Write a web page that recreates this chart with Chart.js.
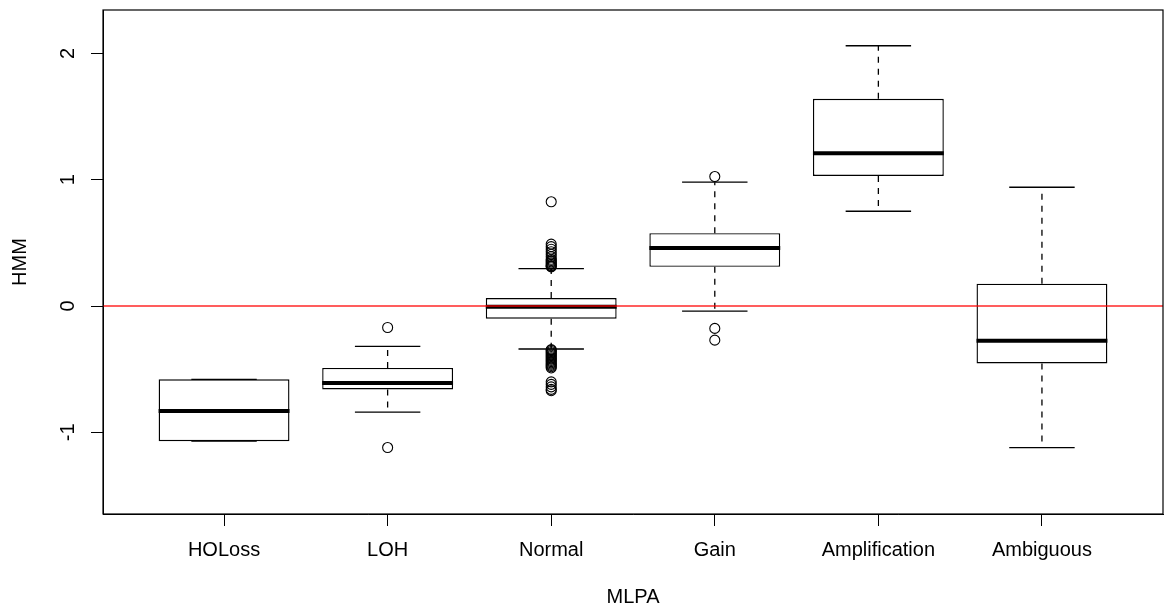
<!DOCTYPE html>
<html lang="en">
<head>
    <meta charset="UTF-8">
    <title>HMM vs MLPA</title>
    <style>
        body { margin: 0; background: #fff; }
        #wrap { width: 1165px; height: 613px; }
    </style>
</head>
<body>
    <div id="wrap"><canvas id="chart" width="1165" height="613"></canvas></div>
    <script src="https://cdn.jsdelivr.net/npm/chart.js@4/dist/chart.umd.min.js"></script>
    <script>
        // values
        const categories = ['HOLoss', 'LOH', 'Normal', 'Gain', 'Amplification', 'Ambiguous'];
        const whiskerLow = [-1.07, -0.84, -0.34, -0.04, 0.75, -1.12];
        const q1 = [-1.07, -0.66, -0.10, 0.31, 1.03, -0.455];
        const median = [-0.83, -0.61, -0.005, 0.46, 1.21, -0.275];
        const q3 = [-0.58, -0.49, 0.063, 0.577, 1.64, 0.177];
        const whiskerHigh = [-0.58, -0.32, 0.296, 0.98, 2.06, 0.94];
        const outliers = [
            [],
            [-0.17, -1.12],
            [0.825, 0.49, 0.47, 0.45, 0.43, 0.41, 0.39, 0.37, 0.36, 0.35, 0.34, 0.33, 0.32, 0.315, 0.31,
             -0.345, -0.35, -0.36, -0.37, -0.38, -0.39, -0.40, -0.41, -0.42, -0.43, -0.44, -0.45,
             -0.46, -0.47, -0.48, -0.49, -0.60, -0.62, -0.64, -0.66, -0.67],
            [1.025, -0.177, -0.27],
            [],
            []
        ];
        const yTicks = [-1, 0, 1, 2];
        const refLine = 0;

        const boxHalf = 0.4, capHalf = 0.2;
        const xMin = 0.26, xMax = 6.74;

        const boxes = categories.map((c, i) => ({ x: i + 1, y: [q1[i], q3[i]] }));
        const medians = [], caps = [], stems = [], points = [];
        categories.forEach((c, i) => {
            const x = i + 1;
            medians.push({ x: x - boxHalf, y: median[i] }, { x: x + boxHalf, y: median[i] }, { x: x, y: null });
            caps.push({ x: x - capHalf, y: whiskerLow[i] }, { x: x + capHalf, y: whiskerLow[i] }, { x: x, y: null });
            caps.push({ x: x - capHalf, y: whiskerHigh[i] }, { x: x + capHalf, y: whiskerHigh[i] }, { x: x, y: null });
            stems.push({ x: x, y: q3[i] }, { x: x, y: whiskerHigh[i] }, { x: x, y: null });
            stems.push({ x: x, y: q1[i] }, { x: x, y: whiskerLow[i] }, { x: x, y: null });
            outliers[i].forEach(v => points.push({ x: x, y: v }));
        });

        // R-style box round the plot region
        const frame = {
            id: 'frame',
            afterDraw(chart) {
                const a = chart.chartArea, ctx = chart.ctx;
                ctx.save();
                ctx.strokeStyle = '#000';
                ctx.lineWidth = 1.2;
                ctx.strokeRect(a.left, a.top, a.right - a.left, a.bottom - a.top);
                ctx.restore();
            }
        };

        Chart.defaults.font.family = "'Liberation Sans', Arial, sans-serif";
        Chart.defaults.color = '#000';

        const lineDefaults = { type: 'line', pointRadius: 0, spanGaps: false, fill: false };

        new Chart(document.getElementById('chart'), {
            type: 'bar',
            data: {
                datasets: [
                    { ...lineDefaults, data: [{ x: xMin, y: refLine }, { x: xMax, y: refLine }],
                      borderColor: 'rgba(255,0,0,0.85)', borderWidth: 1.5, order: 0 },
                    { type: 'line', data: points, showLine: false, pointRadius: 5, pointStyle: 'circle',
                      pointBackgroundColor: 'rgba(0,0,0,0)', pointBorderColor: '#000', pointBorderWidth: 1.1, order: 1 },
                    { ...lineDefaults, data: medians, borderColor: '#000', borderWidth: 4, order: 2 },
                    { ...lineDefaults, data: caps, borderColor: '#000', borderWidth: 1.3, order: 3 },
                    { ...lineDefaults, data: stems, borderColor: '#000', borderWidth: 1.3, borderDash: [6, 6], order: 4 },
                    { type: 'bar', data: boxes, backgroundColor: '#fff', borderColor: '#000', borderWidth: 1.4,
                      borderSkipped: false, categoryPercentage: 0.8, barPercentage: 1.0, order: 5 }
                ]
            },
            options: {
                responsive: false,
                animation: false,
                devicePixelRatio: 1,
                layout: { autoPadding: false, padding: { left: 0, top: 10, right: 2, bottom: 0 } },
                plugins: { legend: { display: false }, tooltip: { enabled: false } },
                scales: {
                    x: {
                        type: 'linear',
                        min: xMin,
                        max: xMax,
                        offset: false,
                        afterBuildTicks: s => { s.ticks = categories.map((c, i) => ({ value: i + 1 })); },
                        afterFit: s => { s.height = 99; s.paddingLeft = 0; s.paddingRight = 0; },
                        grid: { offset: false, drawOnChartArea: false, drawTicks: true, tickLength: 12, color: '#000', lineWidth: 1 },
                        border: { display: true, color: '#000', width: 1 },
                        ticks: { font: { size: 20 }, padding: 12, maxRotation: 0, autoSkip: false,
                                 callback: v => categories[v - 1] },
                        title: { display: true, text: 'MLPA', font: { size: 20 }, padding: { top: 0, bottom: 4 } }
                    },
                    y: {
                        type: 'linear',
                        min: -1.646,
                        max: 2.343,
                        beginAtZero: false,
                        afterBuildTicks: s => { s.ticks = yTicks.map(v => ({ value: v })); },
                        afterFit: s => { s.width = 103; s.paddingTop = 0; s.paddingBottom = 0; },
                        grid: { drawOnChartArea: false, drawTicks: true, tickLength: 12, color: '#000', lineWidth: 1 },
                        border: { display: true, color: '#000', width: 1 },
                        ticks: { font: { size: 20 }, padding: 14, minRotation: 90, maxRotation: 90, crossAlign: 'center',
                                 callback: v => String(v) },
                        title: { display: true, text: 'HMM', font: { size: 20 }, padding: { top: 8, bottom: 0 } }
                    }
                }
            },
            plugins: [frame]
        });
    </script>
</body>
</html>
